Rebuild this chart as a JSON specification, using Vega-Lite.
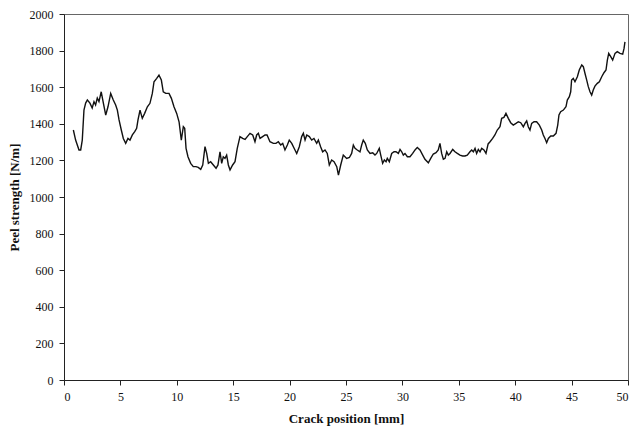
{
  "$schema": "https://vega.github.io/schema/vega-lite/v6.json",
  "width": 564,
  "height": 366,
  "autosize": "none",
  "padding": {"left": 64, "top": 14, "right": 13, "bottom": 51},
  "background": "white",
  "config": {
    "view": {"stroke": "#666", "strokeWidth": 1},
    "font": "Liberation Serif",
    "axis": {
      "labelFont": "Liberation Serif",
      "titleFont": "Liberation Serif",
      "labelFontSize": 12,
      "titleFontSize": 13,
      "titleFontWeight": "bold",
      "labelColor": "#111",
      "titleColor": "#111",
      "domainColor": "#222",
      "tickColor": "#222",
      "grid": false,
      "tickSize": 5,
      "labelPadding": 6,
      "format": "d"
    }
  },
  "data": {
    "values": [
      {"x": 0.83, "y": 1366}, {"x": 1.03, "y": 1311}, {"x": 1.33, "y": 1257}, {"x": 1.48, "y": 1257},
      {"x": 1.62, "y": 1311}, {"x": 1.77, "y": 1475}, {"x": 1.92, "y": 1513}, {"x": 2.07, "y": 1530},
      {"x": 2.3, "y": 1513}, {"x": 2.5, "y": 1486}, {"x": 2.66, "y": 1521}, {"x": 2.8, "y": 1503},
      {"x": 2.95, "y": 1541}, {"x": 3.1, "y": 1521}, {"x": 3.3, "y": 1575}, {"x": 3.49, "y": 1513},
      {"x": 3.7, "y": 1448}, {"x": 3.9, "y": 1493}, {"x": 4.14, "y": 1566}, {"x": 4.37, "y": 1530},
      {"x": 4.58, "y": 1503}, {"x": 4.73, "y": 1475}, {"x": 4.88, "y": 1421}, {"x": 5.08, "y": 1366},
      {"x": 5.26, "y": 1320}, {"x": 5.47, "y": 1293}, {"x": 5.67, "y": 1320}, {"x": 5.85, "y": 1311},
      {"x": 6.06, "y": 1339}, {"x": 6.27, "y": 1357}, {"x": 6.44, "y": 1375}, {"x": 6.56, "y": 1421},
      {"x": 6.74, "y": 1475}, {"x": 6.94, "y": 1430}, {"x": 7.15, "y": 1457}, {"x": 7.39, "y": 1493},
      {"x": 7.62, "y": 1512}, {"x": 7.83, "y": 1566}, {"x": 7.98, "y": 1630}, {"x": 8.22, "y": 1648},
      {"x": 8.42, "y": 1666}, {"x": 8.63, "y": 1639}, {"x": 8.8, "y": 1575}, {"x": 9.02, "y": 1566},
      {"x": 9.31, "y": 1566}, {"x": 9.52, "y": 1539}, {"x": 9.75, "y": 1493}, {"x": 9.99, "y": 1457},
      {"x": 10.2, "y": 1411}, {"x": 10.4, "y": 1311}, {"x": 10.58, "y": 1384}, {"x": 10.7, "y": 1375},
      {"x": 10.82, "y": 1266}, {"x": 10.99, "y": 1220}, {"x": 11.23, "y": 1184}, {"x": 11.46, "y": 1166},
      {"x": 11.7, "y": 1166}, {"x": 11.9, "y": 1162}, {"x": 12.12, "y": 1151}, {"x": 12.3, "y": 1175},
      {"x": 12.5, "y": 1275}, {"x": 12.65, "y": 1238}, {"x": 12.8, "y": 1184}, {"x": 13.0, "y": 1193},
      {"x": 13.24, "y": 1175}, {"x": 13.48, "y": 1157}, {"x": 13.65, "y": 1175}, {"x": 13.83, "y": 1247},
      {"x": 13.98, "y": 1184}, {"x": 14.12, "y": 1220}, {"x": 14.27, "y": 1211}, {"x": 14.42, "y": 1229},
      {"x": 14.57, "y": 1175}, {"x": 14.72, "y": 1148}, {"x": 14.95, "y": 1175}, {"x": 15.16, "y": 1193},
      {"x": 15.36, "y": 1266}, {"x": 15.6, "y": 1330}, {"x": 15.84, "y": 1320}, {"x": 16.05, "y": 1315},
      {"x": 16.25, "y": 1330}, {"x": 16.49, "y": 1348}, {"x": 16.73, "y": 1339}, {"x": 16.93, "y": 1302},
      {"x": 17.08, "y": 1339}, {"x": 17.23, "y": 1348}, {"x": 17.38, "y": 1320}, {"x": 17.61, "y": 1330},
      {"x": 17.82, "y": 1339}, {"x": 18.0, "y": 1339}, {"x": 18.26, "y": 1302}, {"x": 18.56, "y": 1293},
      {"x": 18.79, "y": 1293}, {"x": 19.0, "y": 1302}, {"x": 19.21, "y": 1284}, {"x": 19.39, "y": 1293},
      {"x": 19.59, "y": 1257}, {"x": 19.8, "y": 1284}, {"x": 19.97, "y": 1311}, {"x": 20.19, "y": 1293},
      {"x": 20.4, "y": 1266}, {"x": 20.63, "y": 1238}, {"x": 20.86, "y": 1275}, {"x": 21.07, "y": 1330},
      {"x": 21.22, "y": 1348}, {"x": 21.37, "y": 1311}, {"x": 21.52, "y": 1339}, {"x": 21.75, "y": 1330},
      {"x": 21.96, "y": 1311}, {"x": 22.16, "y": 1320}, {"x": 22.4, "y": 1293}, {"x": 22.55, "y": 1311},
      {"x": 22.75, "y": 1275}, {"x": 22.93, "y": 1247}, {"x": 23.14, "y": 1257}, {"x": 23.34, "y": 1238},
      {"x": 23.52, "y": 1175}, {"x": 23.73, "y": 1202}, {"x": 23.94, "y": 1193}, {"x": 24.18, "y": 1166},
      {"x": 24.33, "y": 1120}, {"x": 24.53, "y": 1175}, {"x": 24.76, "y": 1229}, {"x": 24.91, "y": 1220},
      {"x": 25.06, "y": 1211}, {"x": 25.3, "y": 1216}, {"x": 25.5, "y": 1238}, {"x": 25.65, "y": 1284},
      {"x": 25.8, "y": 1266}, {"x": 26.0, "y": 1257}, {"x": 26.24, "y": 1247}, {"x": 26.39, "y": 1284},
      {"x": 26.53, "y": 1311}, {"x": 26.71, "y": 1293}, {"x": 26.89, "y": 1257}, {"x": 27.13, "y": 1238},
      {"x": 27.37, "y": 1242}, {"x": 27.57, "y": 1229}, {"x": 27.72, "y": 1238}, {"x": 27.95, "y": 1266},
      {"x": 28.08, "y": 1229}, {"x": 28.25, "y": 1184}, {"x": 28.4, "y": 1202}, {"x": 28.55, "y": 1193},
      {"x": 28.66, "y": 1211}, {"x": 28.84, "y": 1193}, {"x": 29.05, "y": 1238}, {"x": 29.26, "y": 1247},
      {"x": 29.43, "y": 1247}, {"x": 29.64, "y": 1238}, {"x": 29.79, "y": 1260}, {"x": 29.94, "y": 1247},
      {"x": 30.08, "y": 1229}, {"x": 30.23, "y": 1238}, {"x": 30.44, "y": 1220}, {"x": 30.67, "y": 1220},
      {"x": 30.91, "y": 1238}, {"x": 31.12, "y": 1257}, {"x": 31.32, "y": 1271}, {"x": 31.56, "y": 1257},
      {"x": 31.8, "y": 1229}, {"x": 32.0, "y": 1206}, {"x": 32.3, "y": 1187}, {"x": 32.51, "y": 1211},
      {"x": 32.74, "y": 1235}, {"x": 32.98, "y": 1242}, {"x": 33.18, "y": 1257}, {"x": 33.33, "y": 1293},
      {"x": 33.48, "y": 1238}, {"x": 33.63, "y": 1206}, {"x": 33.78, "y": 1211}, {"x": 33.93, "y": 1247},
      {"x": 34.07, "y": 1229}, {"x": 34.22, "y": 1238}, {"x": 34.46, "y": 1260}, {"x": 34.66, "y": 1247},
      {"x": 34.87, "y": 1238}, {"x": 35.1, "y": 1229}, {"x": 35.34, "y": 1224}, {"x": 35.55, "y": 1224},
      {"x": 35.75, "y": 1229}, {"x": 35.99, "y": 1247}, {"x": 36.14, "y": 1257}, {"x": 36.29, "y": 1247},
      {"x": 36.44, "y": 1266}, {"x": 36.58, "y": 1238}, {"x": 36.73, "y": 1260}, {"x": 36.88, "y": 1247},
      {"x": 37.03, "y": 1266}, {"x": 37.23, "y": 1257}, {"x": 37.41, "y": 1238}, {"x": 37.6, "y": 1290},
      {"x": 37.77, "y": 1302}, {"x": 38.0, "y": 1320}, {"x": 38.2, "y": 1339}, {"x": 38.41, "y": 1366},
      {"x": 38.65, "y": 1384}, {"x": 38.8, "y": 1430}, {"x": 39.0, "y": 1435}, {"x": 39.18, "y": 1457},
      {"x": 39.39, "y": 1430}, {"x": 39.6, "y": 1406}, {"x": 39.83, "y": 1393}, {"x": 40.07, "y": 1402},
      {"x": 40.28, "y": 1411}, {"x": 40.49, "y": 1406}, {"x": 40.72, "y": 1384}, {"x": 40.87, "y": 1402},
      {"x": 41.02, "y": 1416}, {"x": 41.16, "y": 1384}, {"x": 41.31, "y": 1366}, {"x": 41.46, "y": 1402},
      {"x": 41.67, "y": 1411}, {"x": 41.9, "y": 1411}, {"x": 42.14, "y": 1393}, {"x": 42.35, "y": 1366},
      {"x": 42.49, "y": 1339}, {"x": 42.64, "y": 1320}, {"x": 42.79, "y": 1297}, {"x": 42.94, "y": 1320},
      {"x": 43.15, "y": 1333}, {"x": 43.38, "y": 1333}, {"x": 43.62, "y": 1348}, {"x": 43.77, "y": 1393},
      {"x": 43.88, "y": 1448}, {"x": 44.03, "y": 1466}, {"x": 44.27, "y": 1475}, {"x": 44.5, "y": 1493},
      {"x": 44.62, "y": 1530}, {"x": 44.8, "y": 1548}, {"x": 44.92, "y": 1575}, {"x": 45.0, "y": 1639},
      {"x": 45.15, "y": 1648}, {"x": 45.3, "y": 1630}, {"x": 45.51, "y": 1657}, {"x": 45.68, "y": 1694},
      {"x": 45.9, "y": 1721}, {"x": 46.04, "y": 1712}, {"x": 46.19, "y": 1675}, {"x": 46.34, "y": 1639},
      {"x": 46.48, "y": 1603}, {"x": 46.63, "y": 1575}, {"x": 46.78, "y": 1557}, {"x": 46.92, "y": 1585},
      {"x": 47.07, "y": 1606}, {"x": 47.28, "y": 1621}, {"x": 47.46, "y": 1630}, {"x": 47.67, "y": 1657},
      {"x": 47.87, "y": 1679}, {"x": 48.05, "y": 1694}, {"x": 48.17, "y": 1748}, {"x": 48.29, "y": 1785},
      {"x": 48.47, "y": 1767}, {"x": 48.64, "y": 1748}, {"x": 48.85, "y": 1785}, {"x": 49.05, "y": 1794},
      {"x": 49.29, "y": 1785}, {"x": 49.53, "y": 1781}, {"x": 49.65, "y": 1812}, {"x": 49.73, "y": 1848}
    ]
  },
  "mark": {"type": "line", "color": "#111", "strokeWidth": 1.4, "interpolate": "linear"},
  "encoding": {
    "x": {
      "field": "x", "type": "quantitative",
      "scale": {"domain": [0, 50], "nice": false},
      "axis": {"values": [0, 5, 10, 15, 20, 25, 30, 35, 40, 45, 50], "title": "Crack position [mm]", "titlePadding": 10}
    },
    "y": {
      "field": "y", "type": "quantitative",
      "scale": {"domain": [0, 2000], "nice": false},
      "axis": {"values": [0, 200, 400, 600, 800, 1000, 1200, 1400, 1600, 1800, 2000], "title": "Peel strength [N/m]", "titlePadding": 8}
    }
  }
}
